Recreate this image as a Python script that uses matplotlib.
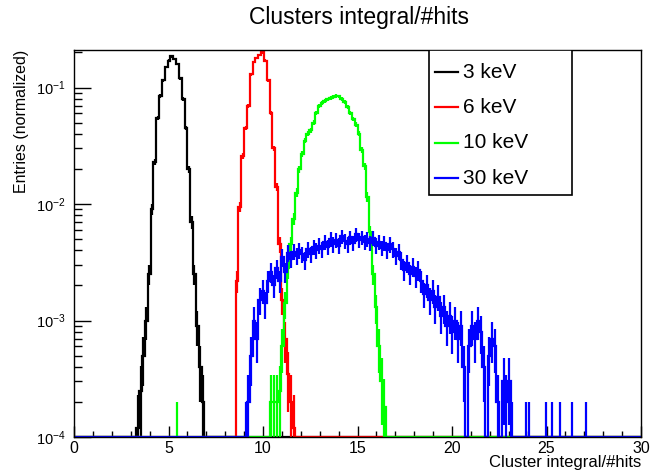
import numpy as np
import matplotlib.pyplot as plt
from matplotlib.ticker import MultipleLocator, LogLocator, NullFormatter
from matplotlib.patches import Rectangle

plt.rcParams['font.family'] = ['Liberation Sans', 'DejaVu Sans']

# histogram binning (0-30, 200 bins)
n_bins = 200
x_min, x_max = 0.0, 30.0
y_min, y_max = 1e-4, 0.21
single_entry = 1e-4   # weight of one entry after normalization

labels = ['3 keV', '6 keV', '10 keV', '30 keV']
colors = ['black', '#ff0000', '#00ff00', '#0000ff']

# bin contents (first bin low edge + consecutive bins)
kev3_start = 3.3
kev3_values = [1.2e-4, 2.5e-4, 5e-4, 1.0e-3, 2.5e-3, 9e-3, 0.023, 0.055, 0.085,
               0.115, 0.15, 0.17, 0.185, 0.175, 0.16, 0.12, 0.08, 0.045, 0.02,
               0.007, 0.0025, 9e-4, 4e-4, 2e-4]

kev6_start = 8.55
kev6_values = [0.0022, 0.0095, 0.026, 0.045, 0.07, 0.13, 0.165, 0.18, 0.19, 0.2,
               0.17, 0.115, 0.06, 0.03, 0.014, 0.0045, 0.0015, 7e-4, 3.5e-4,
               2e-4, 1.2e-4]

kev10_start = 10.35
kev10_values = [2e-4, 2e-4, 2e-4, 2.5e-4, 6e-4, 1.4e-3, 2.8e-3, 4.5e-3, 7.5e-3,
                0.0125, 0.02, 0.027, 0.035, 0.04, 0.043, 0.05, 0.06, 0.07, 0.074,
                0.077, 0.079, 0.081, 0.083, 0.085, 0.084, 0.08, 0.075, 0.068,
                0.06, 0.054, 0.048, 0.04, 0.029, 0.021, 0.0115, 0.0057, 0.0025,
                1.3e-3, 6e-4, 3e-4, 1.8e-4]
kev10_spikes = [5.475]

kev30_start = 9.0
kev30_values = [1e-4, 2e-4, 5e-4, 1.0e-3, 7e-4, 1.5e-3, 1.8e-3, 1.4e-3, 2.2e-3,
                2.6e-3, 2.0e-3, 2.8e-3, 2.2e-3, 3.5e-3, 2.6e-3, 3.8e-3, 3.4e-3,
                3.9e-3, 3.6e-3, 4.0e-3, 3.7e-3, 3.3e-3, 4.1e-3, 3.7e-3, 4.3e-3,
                4.0e-3, 4.4e-3, 4.1e-3, 4.7e-3, 4.3e-3, 5.0e-3, 4.5e-3, 4.9e-3,
                4.4e-3, 5.3e-3, 4.8e-3, 4.5e-3, 5.2e-3, 4.6e-3, 5.5e-3, 4.9e-3,
                5.2e-3, 4.7e-3, 5.0e-3, 4.6e-3, 5.1e-3, 4.4e-3, 4.7e-3, 4.2e-3,
                4.6e-3, 4.0e-3, 4.5e-3, 4.1e-3, 3.6e-3, 3.9e-3, 3.3e-3, 2.7e-3,
                3.1e-3, 2.5e-3, 2.9e-3, 2.4e-3, 2.7e-3, 2.2e-3, 1.7e-3, 2.0e-3,
                1.5e-3, 1.8e-3, 1.3e-3, 1.6e-3, 1.1e-3, 1.3e-3, 9e-4, 1.1e-3,
                8e-4, 1.0e-3, 7e-4, 9e-4, 4e-4, 0, 6e-4, 9e-4, 7e-4, 1.0e-3,
                8e-4, 4e-4, 0, 5e-4, 7e-4, 6e-4, 2e-4, 0, 3e-4, 2e-4, 3e-4, 1e-4]
kev30_spikes = [23.925, 24.075, 24.975, 25.275, 25.725, 26.325, 27.075]


def fill_hist(start, values, spikes=()):
    # put the read values into the full 200 bin array
    bin_w = (x_max - x_min) / n_bins
    h = np.zeros(n_bins)
    i0 = int(round((start - x_min) / bin_w))
    h[i0:i0 + len(values)] = values
    for x in spikes:
        h[int((x - x_min) / bin_w)] = single_entry
    return h


def draw_hist(ax, edges, h, color, z):
    centers = 0.5 * (edges[:-1] + edges[1:])
    # ROOT draws empty bins on the bottom of a log axis
    ax.stairs(np.where(h > 0, h, y_min), edges, baseline=None, color=color,
              lw=1.6, zorder=z)
    err = np.sqrt(h * single_entry)
    filled = h > 0
    ax.vlines(centers[filled], np.maximum(h[filled] - err[filled], y_min * 0.5),
              h[filled] + err[filled], color=color, lw=1.6, zorder=z)


edges = np.linspace(x_min, x_max, n_bins + 1)
hists = [fill_hist(kev3_start, kev3_values),
         fill_hist(kev6_start, kev6_values),
         fill_hist(kev10_start, kev10_values, kev10_spikes),
         fill_hist(kev30_start, kev30_values, kev30_spikes)]

fig = plt.figure(figsize=(6.52, 4.72), dpi=100)
ax = fig.add_axes([74 / 652, 35 / 472, 567 / 652, 387 / 472])

for i, h in enumerate(hists):
    draw_hist(ax, edges, h, colors[i], 2 + i)

ax.set_yscale('log')
ax.set_xlim(x_min, x_max)
ax.set_ylim(y_min, y_max)

ax.xaxis.set_major_locator(MultipleLocator(5))
ax.xaxis.set_minor_locator(MultipleLocator(1))
ax.yaxis.set_major_locator(LogLocator(base=10))
ax.yaxis.set_minor_locator(LogLocator(base=10, subs=np.arange(2, 10)))
ax.yaxis.set_minor_formatter(NullFormatter())

ax.tick_params(axis='x', which='major', direction='in', length=8, width=1,
               labelsize=11.5, pad=3, top=False)
ax.tick_params(axis='x', which='minor', direction='in', length=4, width=1, top=False)
ax.tick_params(axis='y', which='major', direction='in', length=12, width=1,
               labelsize=10.5, pad=6, right=False)
ax.tick_params(axis='y', which='minor', direction='in', length=6, width=1, right=False)
for s in ax.spines.values():
    s.set_linewidth(1)
    s.set_zorder(20)

ax.set_xlabel('Cluster integral/#hits', fontsize=12, ha='right', va='center')
ax.xaxis.set_label_coords(1.0, -0.065)
# ylabel uses rotation_mode 'anchor': ha='right' puts the end of the text at the top
ax.set_ylabel('Entries (normalized)', fontsize=11.5, ha='right', va='center')
ax.yaxis.set_label_coords(-0.092, 1.0)

fig.text(0.55, 0.962, 'Clusters integral/#hits', fontsize=16.5, ha='center', va='center')

# legend box in ROOT style
leg_x0, leg_y0, leg_w, leg_h = 0.626, 0.625, 0.252, 0.375
ax.add_patch(Rectangle((leg_x0, leg_y0), leg_w, leg_h, transform=ax.transAxes,
                       facecolor='white', edgecolor='black', lw=1.2, zorder=30))
row_top, row_step = 0.943, 0.0913
for i, lab in enumerate(labels):
    yy = row_top - i * row_step
    ax.plot([0.637, 0.677], [yy, yy], transform=ax.transAxes, color=colors[i],
            lw=1.6, zorder=31)
    ax.text(0.686, yy, lab, transform=ax.transAxes, fontsize=15, va='center',
            zorder=31)

fig.savefig('out.png', dpi=100)
